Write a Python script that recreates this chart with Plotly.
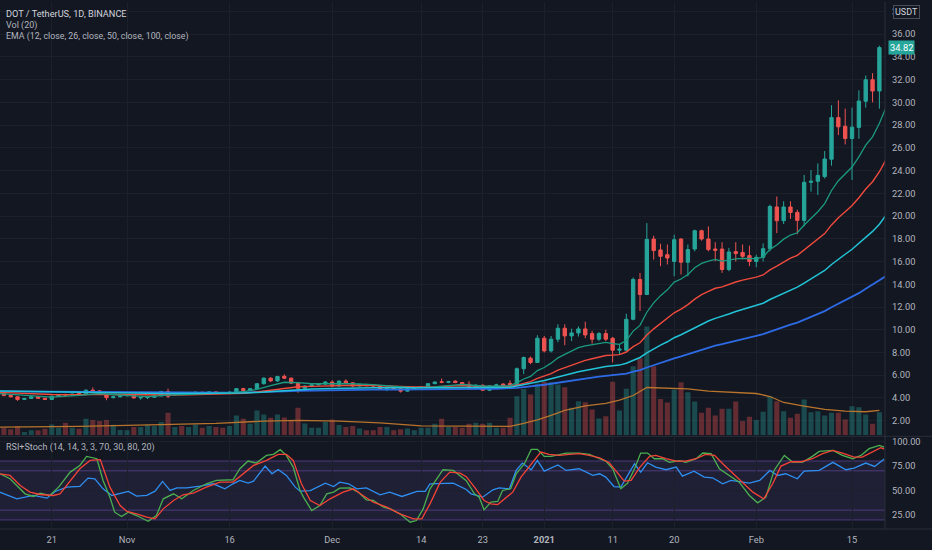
import pandas as pd
import plotly.graph_objects as go

START = pd.Timestamp("2020-10-13")

# ---------------- daily candles (Oct 13 2020 .. Feb 19 2021) ----------------
open_ = [
    4.45, 4.40, 4.22, 4.10, 3.87, 3.96, 4.10, 3.97, 3.87, 4.15,
    4.30, 4.25, 4.38, 4.36, 4.68, 4.62, 4.30, 4.03, 4.10, 4.20,
    4.24, 4.00, 4.03, 4.06, 4.18, 4.57, 4.28, 4.38, 4.33, 4.43,
    4.50, 4.43, 4.53, 4.44, 4.40, 4.52, 4.82, 4.66, 4.80, 5.25,
    5.74, 5.50, 5.90, 5.74, 5.30, 4.85, 5.05, 5.15, 5.22, 5.40,
    5.05, 5.48, 5.33, 5.05, 5.18, 5.10, 5.05, 4.77, 4.90, 4.80,
    4.60, 4.84, 4.92, 4.95, 5.26, 5.42, 5.38, 5.48, 5.36, 5.20,
    4.90, 5.12, 4.68, 5.06, 5.22, 5.28, 5.15, 6.57, 7.50, 7.12,
    9.25, 8.14, 9.17, 10.13, 9.46, 9.72, 10.07, 9.66, 9.17, 9.66,
    9.25, 8.20, 8.20, 10.92, 14.42, 13.10, 17.98, 17.02, 16.60, 16.00,
    17.98, 15.94, 17.10, 18.71, 17.98, 17.10, 17.10, 15.30, 16.87, 16.80,
    16.52, 16.00, 16.37, 17.13, 20.80, 19.59, 20.80, 20.32, 19.62, 22.97,
    23.06, 23.47, 25.00, 28.66, 27.90, 26.82, 27.80, 30.10, 31.99, 31.00,
]
high = [
    4.52, 4.46, 4.28, 4.12, 4.00, 4.15, 4.14, 4.02, 4.20, 4.33,
    4.38, 4.36, 4.46, 4.75, 4.92, 4.70, 4.34, 4.20, 4.25, 4.32,
    4.30, 4.10, 4.12, 4.20, 4.62, 4.82, 4.42, 4.45, 4.47, 4.55,
    4.55, 4.57, 4.58, 4.50, 4.56, 4.88, 4.90, 4.86, 5.30, 5.80,
    5.82, 5.95, 6.08, 5.80, 5.40, 5.10, 5.20, 5.30, 5.48, 5.55,
    5.55, 5.64, 5.38, 5.24, 5.25, 5.22, 5.10, 4.92, 4.98, 4.86,
    4.86, 4.97, 4.98, 5.30, 5.45, 5.71, 5.50, 5.55, 5.40, 5.48,
    5.20, 5.18, 5.12, 5.25, 5.30, 5.55, 6.68, 7.64, 7.64, 9.52,
    9.45, 9.45, 10.48, 10.48, 10.10, 10.30, 10.70, 9.90, 9.80, 10.00,
    9.37, 8.70, 11.41, 14.60, 15.00, 19.38, 18.27, 17.57, 17.50, 18.36,
    18.06, 17.50, 18.80, 18.80, 19.09, 17.70, 17.70, 17.20, 17.70, 17.50,
    17.40, 16.60, 17.60, 21.00, 21.72, 21.30, 21.30, 20.55, 23.62, 24.05,
    24.63, 25.72, 29.75, 30.18, 29.45, 29.54, 31.06, 32.37, 32.57, 34.99,
]
low = [
    4.32, 4.15, 4.05, 3.74, 3.82, 3.92, 3.92, 3.83, 3.84, 4.12,
    4.20, 4.22, 4.30, 4.34, 4.55, 4.25, 3.80, 3.95, 4.05, 4.12,
    3.95, 3.85, 3.90, 4.00, 4.15, 3.98, 4.18, 4.25, 4.28, 4.38,
    4.38, 4.38, 4.38, 4.35, 4.36, 4.48, 4.60, 4.62, 4.75, 5.18,
    5.40, 5.40, 5.65, 5.22, 4.45, 4.75, 4.95, 5.08, 5.15, 4.95,
    5.00, 5.28, 4.95, 5.00, 5.02, 5.00, 4.70, 4.60, 4.72, 4.47,
    4.55, 4.78, 4.85, 4.90, 5.20, 5.30, 5.30, 5.30, 5.12, 4.70,
    4.80, 4.62, 4.60, 5.00, 5.05, 5.00, 5.10, 6.10, 6.97, 7.07,
    8.00, 8.00, 8.90, 8.64, 9.00, 9.40, 9.25, 8.78, 9.00, 9.00,
    7.12, 7.80, 8.15, 10.83, 11.65, 13.05, 16.17, 15.59, 15.74, 14.70,
    14.86, 14.70, 16.90, 17.83, 16.90, 16.02, 15.00, 15.15, 16.00, 16.20,
    15.60, 15.50, 16.00, 16.90, 18.50, 19.30, 19.75, 18.40, 19.10, 22.15,
    21.86, 23.30, 24.43, 27.12, 26.30, 23.18, 26.80, 29.54, 30.00, 29.45,
]
close = [
    4.40, 4.22, 4.10, 3.87, 3.96, 4.10, 3.97, 3.87, 4.15, 4.28,
    4.25, 4.33, 4.36, 4.68, 4.60, 4.30, 4.03, 4.10, 4.20, 4.24,
    4.00, 4.04, 4.06, 4.18, 4.57, 4.15, 4.38, 4.33, 4.43, 4.50,
    4.43, 4.53, 4.42, 4.40, 4.52, 4.82, 4.66, 4.82, 5.25, 5.74,
    5.50, 5.88, 5.74, 5.30, 4.85, 5.05, 5.15, 5.25, 5.40, 5.05,
    5.48, 5.33, 5.05, 5.20, 5.08, 5.06, 4.76, 4.86, 4.78, 4.60,
    4.82, 4.92, 4.95, 5.26, 5.40, 5.38, 5.42, 5.36, 5.18, 4.88,
    5.12, 4.68, 5.06, 5.15, 5.10, 5.12, 6.57, 7.56, 7.12, 9.25,
    8.14, 9.17, 10.13, 9.46, 9.72, 10.07, 9.54, 9.17, 9.66, 9.17,
    8.20, 8.30, 10.92, 14.42, 13.10, 17.95, 16.96, 16.46, 16.31, 17.92,
    15.94, 17.05, 18.71, 17.98, 17.05, 16.99, 15.30, 16.84, 16.70, 16.46,
    16.00, 16.37, 17.13, 20.84, 19.59, 20.80, 20.32, 19.62, 22.97, 23.06,
    23.58, 25.02, 28.66, 27.85, 26.82, 27.82, 30.12, 31.99, 31.00, 34.82,
]
volume = [
    7, 7.7, 6, 9.3, 3.3, 5, 5, 6.7, 11, 7.7,
    12.7, 7.7, 6.7, 16.7, 15.3, 14.3, 15.3, 10.7, 5.3, 5,
    8.3, 8.3, 11, 9.3, 13.3, 22.7, 8.3, 9.3, 8.3, 11,
    7.7, 9.3, 8.3, 7.7, 9.3, 20, 16.7, 11.7, 25, 21,
    17.7, 21, 18, 15.5, 27.7, 12, 7.7, 7.7, 13.3, 16,
    10.3, 8.3, 9.3, 7, 5, 5, 8.3, 8.3, 5, 6,
    7, 5, 7.7, 7.7, 11.7, 16.7, 8.3, 8.3, 7.7, 11.7,
    12.7, 11.7, 12.7, 7.7, 7.7, 17.7, 39.3, 46.5, 41, 52,
    53.7, 53.3, 51, 48.3, 27.7, 34.3, 33.3, 26, 17, 19.3,
    53.7, 25, 46.7, 69.3, 77.5, 109.3, 69.3, 36.5, 33, 46,
    53.3, 43.3, 34, 22.7, 27.7, 20, 26.7, 26.7, 34, 14.3,
    18.7, 15.3, 23.7, 39.3, 34.3, 24.3, 17.7, 21.7, 36, 23.3,
    24.3, 20, 22.7, 22.7, 16, 29.3, 28.3, 21, 11.7, 23.3,
]

# ---------------- Vol (20) moving average ----------------
vma_day = [0, 6, 12, 19, 25, 32, 39, 44, 50, 56, 62, 68, 73, 75, 77, 79, 81, 83, 86, 89,
           91, 93, 95, 98, 101, 104, 108, 111, 113, 115, 118, 121, 124, 127, 129]
vma_val = [8.3, 8.5, 9, 10, 11, 12, 14.3, 15, 14.3, 12.5, 9.5, 9, 8.8, 9, 12, 15.5, 20, 25, 29.5, 32,
           35.3, 40, 48, 47.5, 46.7, 44.3, 43.3, 42, 39, 33, 29.3, 26, 24.3, 23.7, 25]

# ---------------- EMA lines ----------------
ema_day = [0, 4, 8, 12, 15, 18, 22, 25, 28, 31, 34, 36, 38, 40, 42, 44, 46, 49, 52, 55,
           58, 61, 64, 66, 68, 71, 73] + list(range(75, 131))
ema12 = [
    4.40, 4.22, 4.08, 4.22, 4.38, 4.25, 4.12, 4.25, 4.30, 4.38,
    4.44, 4.55, 4.75, 5.08, 5.38, 5.35, 5.25, 5.25, 5.25, 5.18,
    5.00, 4.88, 4.98, 5.12, 5.20, 5.05, 5.03,
    5.08, 5.33, 5.67, 5.89, 6.41, 6.68, 7.06, 7.53, 7.83, 8.12,
    8.42, 8.59, 8.68, 8.83, 8.88, 8.78, 8.71, 9.05, 9.88, 10.38,
    11.54, 12.37, 13.00, 13.51, 14.19, 14.46, 14.86, 15.45, 15.84, 16.03,
    16.18, 16.04, 16.16, 16.24, 16.27, 16.23, 16.25, 16.39, 17.07, 17.46,
    17.97, 18.33, 18.53, 19.21, 19.80, 20.38, 21.09, 22.25, 23.11, 23.68,
    24.31, 25.20, 26.24, 26.97, 28.17, 29.60,
]
ema26 = [
    4.50, 4.40, 4.30, 4.28, 4.33, 4.30, 4.24, 4.26, 4.28, 4.32,
    4.36, 4.42, 4.52, 4.68, 4.88, 4.98, 5.02, 5.08, 5.12, 5.10,
    5.03, 4.96, 4.98, 5.04, 5.08, 5.03, 5.02,
    5.02, 5.13, 5.31, 5.44, 5.72, 5.90, 6.14, 6.44, 6.66, 6.89,
    7.13, 7.31, 7.45, 7.61, 7.73, 7.77, 7.81, 8.04, 8.51, 8.85,
    9.53, 10.08, 10.55, 10.98, 11.49, 11.82, 12.21, 12.69, 13.08, 13.38,
    13.65, 13.77, 14.00, 14.20, 14.37, 14.49, 14.63, 14.82, 15.27, 15.59,
    15.98, 16.30, 16.55, 17.03, 17.48, 17.93, 18.46, 19.22, 19.86, 20.38,
    20.93, 21.61, 22.38, 23.02, 23.90, 25.00,
]
ema50 = [
    4.62, 4.57, 4.52, 4.48, 4.47, 4.45, 4.41, 4.40, 4.40, 4.41,
    4.42, 4.44, 4.48, 4.56, 4.66, 4.74, 4.78, 4.83, 4.88, 4.90,
    4.89, 4.87, 4.88, 4.90, 4.93, 4.93, 4.93,
    4.95, 5.05, 5.16, 5.25, 5.42, 5.53, 5.68, 5.86, 6.00, 6.15,
    6.31, 6.44, 6.55, 6.67, 6.77, 6.83, 6.89, 7.05, 7.34, 7.56,
    7.97, 8.33, 8.65, 8.94, 9.30, 9.56, 9.86, 10.20, 10.51, 10.77,
    11.00, 11.17, 11.39, 11.60, 11.79, 11.95, 12.13, 12.33, 12.66, 12.93,
    13.24, 13.51, 13.75, 14.11, 14.46, 14.82, 15.21, 15.74, 16.22, 16.64,
    17.08, 17.59, 18.15, 18.65, 19.28, 20.10,
]
ema100 = [
    4.58, 4.56, 4.54, 4.52, 4.51, 4.50, 4.48, 4.47, 4.47, 4.47,
    4.47, 4.48, 4.50, 4.54, 4.59, 4.63, 4.66, 4.69, 4.72, 4.74,
    4.74, 4.74, 4.75, 4.77, 4.79, 4.80, 4.81,
    4.83, 4.88, 4.95, 5.00, 5.09, 5.16, 5.25, 5.35, 5.44, 5.53,
    5.63, 5.71, 5.79, 5.87, 5.94, 5.99, 6.04, 6.14, 6.31, 6.45,
    6.68, 6.89, 7.08, 7.27, 7.48, 7.65, 7.84, 8.06, 8.26, 8.43,
    8.60, 8.73, 8.89, 9.05, 9.20, 9.33, 9.47, 9.62, 9.84, 10.03,
    10.25, 10.45, 10.63, 10.88, 11.12, 11.37, 11.64, 11.98, 12.29, 12.58,
    12.88, 13.22, 13.60, 13.94, 14.35, 14.75,
]

# ---------------- RSI + Stoch pane (day offset, value) ----------------
rsi_pts = [
    (0.4, 48.3), (2.9, 41.5), (5.3, 44.9), (7.3, 42.2), (8.5, 49.0), (10.2, 53.4), (12.1, 54.1),
    (13.3, 62.6), (14.3, 61.9), (15.5, 51.7), (16.8, 44.9), (19.2, 49.0), (20.4, 44.2), (21.9, 45.0),
    (23.1, 49.3), (24.2, 59.2), (25.3, 50.0), (26.3, 52.7), (27.7, 52.7), (29.7, 54.4), (31.6, 56.8),
    (33.3, 51.7), (34.5, 56.8), (35.5, 60.2), (36.7, 57.5), (37.5, 59.5), (39.2, 74.8), (40.2, 67.0),
    (41.1, 71.4), (42.3, 65.3), (43.6, 53.4), (44.3, 49.3), (45.8, 49.9), (48.0, 57.5), (49.2, 54.0),
    (50.1, 58.5), (51.4, 56.8), (52.6, 51.7), (54.0, 52.7), (56.0, 45.6), (57.4, 48.3), (59.2, 43.9),
    (61.4, 49.0), (62.6, 49.0), (63.3, 56.8), (65.2, 57.5), (66.7, 57.5), (68.6, 51.0), (69.3, 46.6),
    (71.0, 43.2), (72.5, 50.7), (73.4, 52.7), (74.9, 51.7), (75.9, 70.4), (76.8, 77.9), (78.1, 71.1),
    (79.0, 80.6), (80.0, 69.7), (82.0, 75.9), (83.2, 70.4), (85.1, 72.1), (87.1, 65.3), (88.1, 67.0),
    (89.0, 63.6), (90.2, 54.0), (91.2, 53.4), (92.4, 67.0), (93.2, 77.2), (94.1, 68.7), (95.1, 78.2),
    (96.3, 73.8), (97.8, 71.1), (99.3, 73.8), (100.2, 64.6), (101.9, 69.7), (103.4, 63.6), (104.6, 62.9),
    (106.1, 56.8), (107.3, 60.2), (108.8, 58.5), (110.0, 57.5), (111.5, 60.2), (113.0, 70.4), (114.1, 65.3),
    (115.3, 67.0), (117.0, 61.9), (118.0, 69.7), (120.2, 70.4), (122.2, 78.6), (124.1, 71.1), (125.3, 72.8),
    (127.0, 77.9), (128.3, 74.5), (129.7, 82.0),
]
stoch_k_pts = [
    (0.4, 67.0), (1.9, 61.9), (4.1, 46.6), (5.3, 43.9), (6.3, 47.3), (7.7, 44.9), (9.0, 53.4),
    (10.7, 68.7), (12.1, 75.5), (13.1, 84.7), (14.6, 82.3), (15.5, 60.2), (16.5, 43.2), (17.2, 27.9),
    (18.2, 23.5), (19.2, 27.9), (20.4, 24.5), (22.1, 18.7), (23.3, 24.5), (24.3, 41.5), (25.8, 46.6),
    (27.0, 41.5), (28.7, 50.0), (30.6, 56.8), (32.1, 60.2), (33.6, 60.2), (34.5, 60.9), (35.5, 72.1),
    (36.7, 79.9), (37.9, 77.9), (39.4, 85.7), (40.4, 86.7), (41.4, 91.5), (42.3, 85.7), (43.3, 73.8),
    (44.3, 50.0), (44.8, 43.2), (46.0, 29.6), (47.2, 34.7), (48.2, 46.6), (49.2, 48.3), (50.1, 52.4),
    (51.6, 52.7), (52.8, 48.3), (54.0, 40.5), (55.0, 39.8), (56.5, 33.0), (57.5, 31.3), (58.9, 26.2),
    (60.4, 17.7), (61.3, 19.4), (62.3, 31.3), (63.3, 51.7), (65.2, 71.1), (66.7, 70.4), (68.6, 60.0),
    (69.8, 46.6), (70.5, 43.2), (71.2, 30.3), (72.2, 38.1), (73.2, 38.8), (73.9, 50.0), (75.1, 51.7),
    (75.9, 67.0), (77.1, 77.2), (78.1, 91.8), (79.0, 91.8), (80.0, 84.7), (81.0, 84.7), (82.2, 86.4),
    (83.2, 88.1), (85.1, 88.1), (86.6, 86.7), (88.1, 82.3), (89.0, 79.9), (90.0, 72.1), (91.2, 51.7),
    (92.2, 57.5), (93.2, 72.1), (94.1, 88.1), (95.1, 88.1), (96.1, 82.3), (97.3, 82.3), (98.3, 78.6),
    (99.8, 80.3), (100.7, 78.6), (102.2, 82.3), (103.2, 88.1), (104.4, 87.4), (105.6, 72.1), (107.1, 65.3),
    (108.5, 58.5), (110.0, 44.9), (111.2, 37.4), (112.4, 43.2), (113.6, 70.4), (115.1, 85.7), (116.3, 78.9),
    (117.8, 78.9), (119.2, 84.7), (120.2, 89.8), (122.2, 90.8), (123.6, 85.7), (125.1, 82.3), (126.3, 85.7),
    (127.5, 92.5), (129.0, 95.9), (129.7, 94.2),
]
stoch_d_pts = [
    (0.4, 67.0), (1.9, 65.3), (3.4, 55.1), (4.8, 48.3), (6.3, 45.9), (8.2, 44.9), (9.2, 46.6),
    (10.7, 60.2), (12.1, 72.1), (13.6, 80.6), (15.1, 81.3), (16.5, 53.4), (18.0, 34.7), (19.0, 28.6),
    (20.4, 26.2), (21.9, 22.8), (23.1, 21.1), (24.3, 31.3), (25.8, 39.8), (27.2, 45.6), (28.7, 47.3),
    (30.6, 53.4), (32.6, 58.5), (34.5, 58.5), (36.0, 67.0), (37.5, 75.5), (39.4, 80.6), (41.1, 86.7),
    (42.3, 86.7), (43.3, 80.6), (44.5, 56.8), (45.8, 39.8), (47.2, 34.7), (48.7, 41.5), (50.6, 48.3),
    (52.1, 51.7), (53.5, 44.9), (55.0, 38.1), (57.0, 33.0), (58.9, 26.2), (60.9, 21.1), (62.1, 21.1),
    (63.3, 36.4), (64.8, 58.5), (66.2, 68.7), (67.7, 67.7), (68.6, 64.0), (69.8, 53.4), (71.2, 39.8),
    (72.2, 36.4), (73.2, 35.7), (74.2, 41.5), (75.4, 48.3), (76.6, 63.6), (78.1, 77.2), (79.5, 89.1),
    (80.7, 86.7), (82.2, 85.7), (83.7, 86.7), (85.1, 87.4), (86.6, 85.7), (88.1, 83.3), (89.5, 78.2),
    (90.7, 68.0), (91.7, 59.5), (92.7, 60.2), (93.9, 73.1), (95.4, 84.7), (96.3, 85.7), (97.8, 82.3),
    (99.3, 79.9), (100.7, 79.9), (102.2, 82.3), (103.6, 86.7), (104.9, 85.7), (106.1, 77.2), (107.6, 67.0),
    (109.0, 58.5), (110.5, 48.3), (112.1, 41.5), (113.4, 56.8), (114.6, 74.8), (116.1, 79.2), (117.5, 79.2),
    (119.2, 82.3), (120.7, 87.4), (122.2, 90.8), (123.6, 88.1), (125.3, 83.9), (126.5, 83.9), (128.0, 89.1),
    (129.2, 93.5), (129.7, 92.0),
]

# ---------------- axis ticks ----------------
x_tick_dates = ["2020-10-21", "2020-11-01", "2020-11-16", "2020-12-01", "2020-12-14", "2020-12-23",
                "2021-01-01", "2021-01-11", "2021-01-20", "2021-02-01", "2021-02-15"]
x_tick_text = ["21", "Nov", "16", "Dec", "14", "23", "<b>2021</b>", "11", "20", "Feb", "15"]
price_ticks = [2, 4, 6, 8, 10, 12, 14, 16, 18, 20, 22, 24, 26, 28, 30, 32, 34, 36, 38]
rsi_ticks = [25, 50, 75, 100]
rsi_bands = [80, 70, 30, 20]

# ---------------- styling ----------------
BG = "#131722"
GRID = "#1c202b"
TXT = "#b2b5be"
UP = "#26a69a"
DOWN = "#ef5350"
FONT = "Roboto, Open Sans, sans-serif"
FS = 9.0
TICK_FS = 9.3


def day_dates(days):
    return [START + pd.Timedelta(days=float(d)) for d in days]


dates = pd.date_range(START, periods=len(close), freq="D")
vol_colors = ["rgba(38,166,154,0.36)" if c >= o else "rgba(239,83,80,0.36)"
              for o, c in zip(open_, close)]

fig = go.Figure()

# volume (bottom of main pane)
fig.add_trace(go.Bar(x=dates, y=volume, marker=dict(color=vol_colors, line=dict(width=0)),
                     xaxis="x", yaxis="y"))
fig.add_trace(go.Scatter(x=day_dates(vma_day), y=vma_val, mode="lines",
                         line=dict(color="#b8742c", width=1.3), xaxis="x", yaxis="y"))

# candles
fig.add_trace(go.Candlestick(
    x=dates, open=open_, high=high, low=low, close=close,
    increasing=dict(line=dict(color=UP, width=1), fillcolor=UP),
    decreasing=dict(line=dict(color=DOWN, width=1), fillcolor=DOWN),
    whiskerwidth=0, xaxis="x", yaxis="y2"))

# EMAs
ema_x = day_dates(ema_day)
for vals, col, w in [(ema100, "#2d6be6", 1.8), (ema26, "#ef4a3c", 1.4),
                     (ema12, "#1b9a80", 1.3), (ema50, "#22c3d6", 1.5)]:
    fig.add_trace(go.Scatter(x=ema_x, y=vals, mode="lines", line=dict(color=col, width=w),
                             xaxis="x", yaxis="y2"))

# RSI + Stoch
for pts, col in [(rsi_pts, "#2e8ff0"), (stoch_k_pts, "#4caf50"), (stoch_d_pts, "#f44336")]:
    fig.add_trace(go.Scatter(x=day_dates([p[0] for p in pts]), y=[p[1] for p in pts],
                             mode="lines", line=dict(color=col, width=1.3),
                             xaxis="x2", yaxis="y3"))

shapes = [
    dict(type="rect", xref="paper", yref="y3", x0=0, x1=1, y0=min(rsi_bands), y1=max(rsi_bands),
         fillcolor="rgba(126,87,194,0.12)", line=dict(width=0), layer="below"),
]
for b in rsi_bands:
    shapes.append(dict(type="line", xref="paper", yref="y3", x0=0, x1=1, y0=b, y1=b,
                       line=dict(color="rgba(126,87,194,0.5)", width=1), layer="below"))
# pane separators
shapes += [
    dict(type="line", xref="paper", yref="paper", x0=0, x1=1.06, y0=0.1758, y1=0.1758,
         line=dict(color="#2a2e39", width=1)),
    dict(type="line", xref="paper", yref="paper", x0=1, x1=1, y0=0, y1=1,
         line=dict(color="#2a2e39", width=1)),
    dict(type="line", xref="paper", yref="paper", x0=0, x1=1.06, y0=0, y1=0,
         line=dict(color="#2a2e39", width=1)),
]

annotations = [
    dict(text="DOT / TetherUS, 1D, BINANCE", xref="paper", yref="paper", x=0.005, y=1 - 11.5 / 529,
         xanchor="left", yanchor="middle", showarrow=False,
         font=dict(family=FONT, size=FS + 0.2, color="#d1d4dc")),
    dict(text="Vol (20)", xref="paper", yref="paper", x=0.005, y=1 - 23.5 / 529,
         xanchor="left", yanchor="middle", showarrow=False, font=dict(family=FONT, size=FS, color=TXT)),
    dict(text="EMA (12, close, 26, close, 50, close, 100, close)", xref="paper", yref="paper",
         x=0.005, y=1 - 35 / 529, xanchor="left", yanchor="middle", showarrow=False,
         font=dict(family=FONT, size=FS - 0.2, color=TXT)),
    dict(text="RSI+Stoch (14, 14, 3, 3, 70, 30, 80, 20)", xref="paper", yref="paper",
         x=0.005, y=1 - 447 / 529, xanchor="left", yanchor="middle", showarrow=False,
         font=dict(family=FONT, size=FS, color=TXT)),
    dict(text="USDT", xref="paper", yref="paper", x=1.0245, y=1 - 10.5 / 529, xanchor="center",
         yanchor="middle", showarrow=False, bgcolor=BG, bordercolor="#4a4e5a", borderwidth=1,
         borderpad=1, font=dict(family=FONT, size=FS, color="#d1d4dc")),
    dict(text=f"{close[-1]:.2f}", xref="paper", yref="y2", x=1.0035, y=close[-1], xanchor="left",
         yanchor="middle", showarrow=False, bgcolor=UP, borderpad=1,
         font=dict(family=FONT, size=TICK_FS, color="#ffffff")),
]

fig.update_layout(
    width=932, height=550,
    margin=dict(l=0, r=47, t=0, b=21),
    paper_bgcolor=BG, plot_bgcolor=BG,
    showlegend=False, hovermode=False,
    bargap=0.25, boxgap=0.3,
    font=dict(family=FONT, size=FS, color=TXT),
    shapes=shapes, annotations=annotations,
    xaxis=dict(domain=[0, 1], anchor="y", type="date",
               range=["2020-10-13 10:24", "2021-02-19 19:40"],
               tickvals=x_tick_dates, showticklabels=False, ticks="",
               showgrid=True, gridcolor=GRID, gridwidth=1, zeroline=False,
               rangeslider=dict(visible=False), fixedrange=True),
    xaxis2=dict(domain=[0, 1], anchor="y3", type="date", matches="x",
                tickvals=x_tick_dates, ticktext=x_tick_text, ticks="", ticklabelstandoff=4,
                showgrid=True, gridcolor=GRID, gridwidth=1, zeroline=False,
                tickfont=dict(family=FONT, size=TICK_FS, color=TXT), fixedrange=True),
    yaxis=dict(domain=[0.1777, 1], range=[0, 435], visible=False, fixedrange=True),
    yaxis2=dict(overlaying="y", anchor="x", side="right", range=[0.71, 38.83],
                tickvals=price_ticks, tickformat=".2f", ticks="", ticklabelstandoff=6,
                showgrid=True, gridcolor=GRID, gridwidth=1, zeroline=False,
                tickfont=dict(family=FONT, size=TICK_FS, color=TXT), fixedrange=True),
    yaxis3=dict(domain=[0, 0.1739], anchor="x2", side="right", range=[10.8, 104.05],
                tickvals=rsi_ticks, tickformat=".2f", ticks="", ticklabelstandoff=6,
                showgrid=True, gridcolor=GRID, gridwidth=1, zeroline=False,
                tickfont=dict(family=FONT, size=TICK_FS, color=TXT), fixedrange=True),
)

fig.write_html(
    "out.html",
    config={"displayModeBar": False},
    post_script="document.body.style.margin='0';document.body.style.padding='0';"
                "document.body.style.background='#131722';",
)
